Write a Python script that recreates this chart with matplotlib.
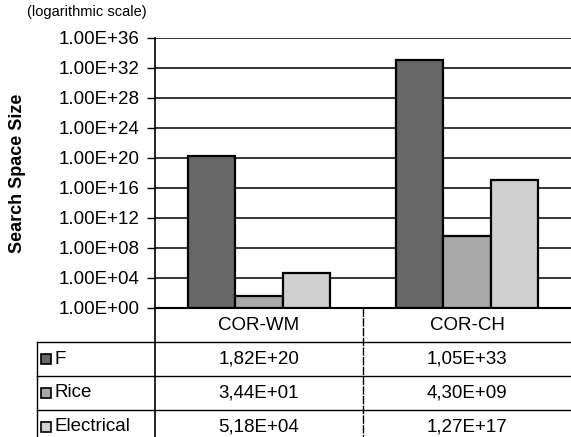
import numpy as np
import matplotlib

matplotlib.use("Agg")
import matplotlib.pyplot as plt
from matplotlib.patches import Rectangle

# data
categories = ["COR-WM", "COR-CH"]
series = ["F", "Rice", "Electrical"]
f_vals = [1.82e20, 1.05e33]
rice_vals = [3.44e01, 4.30e09]
elec_vals = [5.18e04, 1.27e17]
f_text = ["1,82E+20", "1,05E+33"]
rice_text = ["3,44E+01", "4,30E+09"]
elec_text = ["5,18E+04", "1,27E+17"]
y_exponents = list(range(0, 37, 4))

colors = ["#676767", "#a8a8a8", "#d0d0d0"]

plt.rcParams["font.family"] = ["Liberation Sans", "DejaVu Sans"]
fs = 13.5

fig = plt.figure(figsize=(5.71, 4.37), dpi=100)
# plot area: x 155..571 px, y 38..308 px
ax = fig.add_axes([155 / 571, 1 - 308 / 437, 416 / 571, 270 / 437])

x = np.arange(len(categories))
width = 0.226
values = [f_vals, rice_vals, elec_vals]
for i, (vals, c) in enumerate(zip(values, colors)):
    ax.bar(x + (i - 1) * width, vals, width, bottom=1, color=c,
           edgecolor="black", linewidth=1.6, zorder=3)

ax.set_yscale("log")
ax.set_ylim(1, 1e36)
ax.set_xlim(-0.5, 1.5)
ax.set_yticks([10.0 ** e for e in y_exponents])
ax.set_yticklabels([f"1.00E+{e:02d}" for e in y_exponents], fontsize=fs)
ax.yaxis.set_minor_locator(matplotlib.ticker.NullLocator())
ax.tick_params(axis="y", direction="out", length=6, width=1, pad=5)
ax.set_xticks([])
ax.grid(axis="y", color="black", linewidth=1.1, zorder=0)
for s in ["top", "right"]:
    ax.spines[s].set_visible(False)
ax.spines["left"].set_linewidth(1.2)
ax.spines["bottom"].set_linewidth(1.5)

ax.set_ylabel("Search Space Size", fontsize=13, fontweight="bold")
ax.yaxis.set_label_coords(-(155 - 26) / 416, 0.5)
fig.text(27 / 571, 1 - 12 / 437, "(logarithmic scale)", fontsize=10.5,
         ha="left", va="center")

# data table under the plot (x in data units, y in axes fraction)
tr = ax.get_xaxis_transform()
row_h = 34 / 270
x_left = -0.5 - (155 - 37) / 208
lw = 1.0

for i, cat in enumerate(categories):
    ax.text(i, -row_h / 2, cat, transform=tr, ha="center", va="center",
            fontsize=fs, clip_on=False)

rows = [f_text, rice_text, elec_text]
for r, (name, txts, c) in enumerate(zip(series, rows, colors)):
    yc = -row_h * (r + 1.5)
    ax.add_patch(Rectangle((x_left + 0.02, yc - 0.018), 0.045, 0.036,
                           transform=tr, facecolor=c, edgecolor="black",
                           linewidth=1.2, clip_on=False))
    ax.text(x_left + 0.085, yc, name, transform=tr, ha="left", va="center",
            fontsize=fs, clip_on=False)
    for i, t in enumerate(txts):
        ax.text(i, yc, t, transform=tr, ha="center", va="center",
                fontsize=fs, clip_on=False)

for r in range(1, 4):
    ax.plot([x_left, 1.5], [-row_h * r, -row_h * r], transform=tr,
            color="black", linewidth=lw, clip_on=False)
ax.plot([-0.5, -0.5], [0, -1], transform=tr, color="black",
        linewidth=1.2, clip_on=False)
ax.plot([0.5, 0.5], [0, -1], transform=tr, color="black",
        linewidth=lw, linestyle=(0, (6, 1)), clip_on=False)
ax.plot([x_left, x_left], [-row_h, -1], transform=tr, color="black",
        linewidth=lw, clip_on=False)

fig.savefig("out.png", dpi=100)
